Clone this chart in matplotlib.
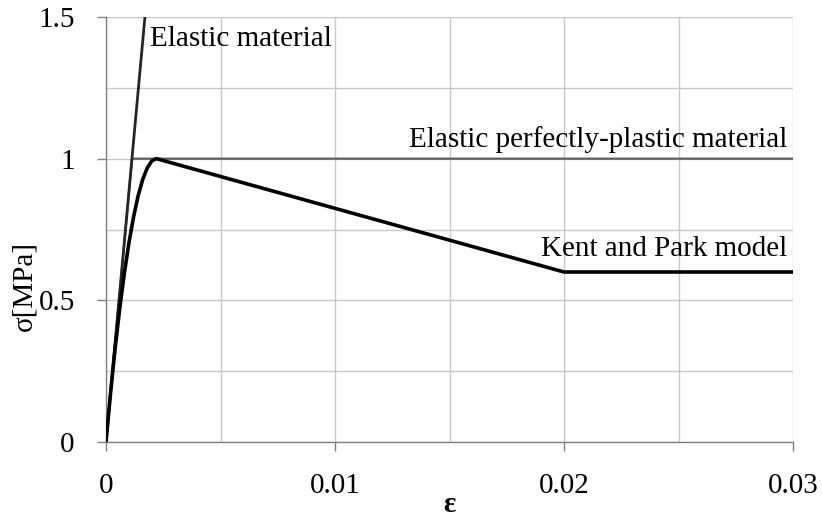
import matplotlib
matplotlib.use('Agg')
import matplotlib.pyplot as plt
from matplotlib.ticker import MultipleLocator

plt.rcParams['font.family'] = ['Liberation Serif', 'DejaVu Serif']

# Elastic material (straight line up past the top of the axes)
elastic_eps = [0.0, 0.0017]
elastic_sig = [0.0, 1.5]

# Elastic perfectly-plastic material
epp_eps = [0.0, 0.00114, 0.03]
epp_sig = [0.0, 1.0, 1.0]

# Kent and Park model
kp_eps = [0.0, 0.0002, 0.0004, 0.0006, 0.0008, 0.001, 0.0012, 0.0014,
          0.0016, 0.0018, 0.002, 0.0022, 0.02, 0.03]
kp_sig = [0.0, 0.174, 0.331, 0.471, 0.595, 0.702, 0.793, 0.868,
          0.926, 0.967, 0.992, 1.0, 0.6, 0.6]

x_ticks = [0, 0.01, 0.02, 0.03]
x_labels = ['0', '0.01', '0.02', '0.03']
y_ticks = [0, 0.5, 1, 1.5]
y_labels = ['0', '0.5', '1', '1.5']

fs = 21

fig = plt.figure(figsize=(8.22, 5.21), dpi=100)
ax = fig.add_axes([106 / 822, 1 - 442 / 521, 687 / 822, 425 / 521])

ax.plot(epp_eps, epp_sig, color='#5f5f5f', linewidth=1.6, zorder=3)
ax.plot(elastic_eps, elastic_sig, color='#262626', linewidth=2.0, zorder=4)
ax.plot(kp_eps, kp_sig, color='black', linewidth=2.6, zorder=5,
        solid_joinstyle='round')

ax.set_xlim(0, 0.03)
ax.set_ylim(0, 1.5)
ax.set_xticks(x_ticks)
ax.set_xticklabels(x_labels)
ax.set_yticks(y_ticks)
ax.set_yticklabels(y_labels)
ax.xaxis.set_minor_locator(MultipleLocator(0.005))
ax.yaxis.set_minor_locator(MultipleLocator(0.25))

ax.grid(True, which='both', color='#c8c8c8', linewidth=1.0, zorder=0)
ax.set_axisbelow(True)
ax.tick_params(which='major', direction='out', length=6.5, width=1,
               color='#808080', labelsize=fs)
ax.tick_params(axis='x', which='major', pad=16)
ax.tick_params(axis='y', which='major', pad=16)
ax.tick_params(which='minor', length=0)

for side in ['top', 'right']:
    ax.spines[side].set_visible(False)
for side in ['left', 'bottom']:
    ax.spines[side].set_color('#808080')
    ax.spines[side].set_linewidth(1.0)

ax.text(0.00192, 1.398, 'Elastic material', fontsize=fs, va='baseline', ha='left')
ax.text(0.02974, 1.041, 'Elastic perfectly-plastic material', fontsize=fs,
        va='baseline', ha='right')
ax.text(0.02974, 0.655, 'Kent and Park model', fontsize=fs,
        va='baseline', ha='right')

fig.text(24 / 822, 1 - 286 / 521, 'σ[MPa]', fontsize=fs, rotation=90,
         ha='center', va='center')
fig.text(449 / 822, 3 / 521, 'ε', fontsize=fs, fontweight='bold',
         ha='center', va='bottom')

fig.savefig('out.png', dpi=100)
